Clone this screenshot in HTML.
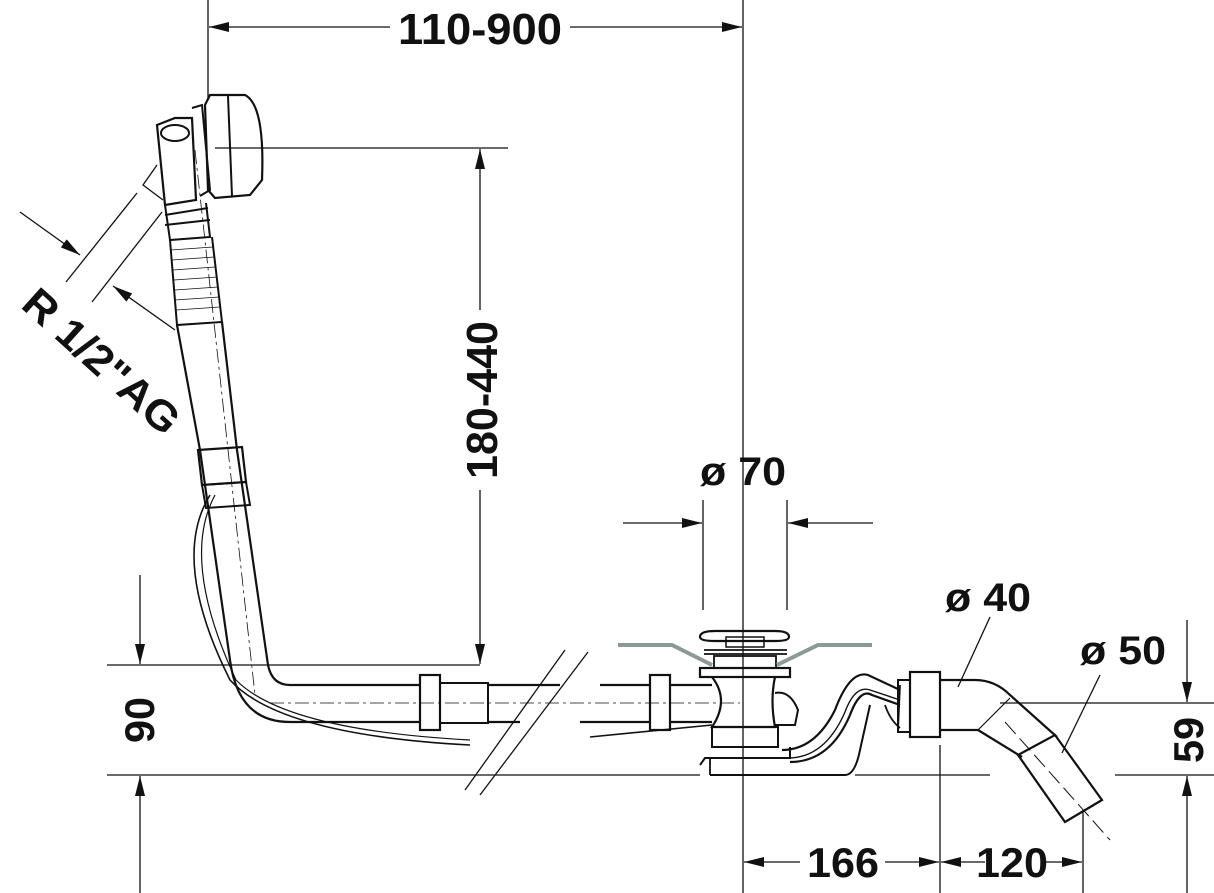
<!DOCTYPE html>
<html><head><style>html,body{margin:0;padding:0;background:#fff}svg{display:block}
text{font-family:"Liberation Sans",sans-serif;font-weight:bold;fill:#111}</style></head>
<body>
<svg width="1214" height="893" viewBox="0 0 1214 893" xmlns="http://www.w3.org/2000/svg">
<defs>
<marker id="a" viewBox="0 0 20 10" refX="20" refY="5" markerWidth="20" markerHeight="10" markerUnits="userSpaceOnUse" orient="auto"><path d="M0,0 L20,5 L0,10 z" fill="#111"/></marker>
</defs>
<g stroke="#111" stroke-width="1.3" fill="none">
<line x1="208" y1="0" x2="208" y2="100"/>
<line x1="743" y1="0" x2="743" y2="893"/>
<line x1="390" y1="27" x2="209" y2="27" marker-end="url(#a)"/>
<line x1="570" y1="27" x2="742" y2="27" marker-end="url(#a)"/>
<line x1="215" y1="148" x2="508" y2="148"/>
<line x1="480" y1="310" x2="480" y2="149" marker-end="url(#a)"/>
<line x1="480" y1="490" x2="480" y2="664" marker-end="url(#a)"/>
<line x1="107" y1="665" x2="480" y2="665"/>
<line x1="107" y1="775" x2="700" y2="775"/>
<line x1="140" y1="575" x2="140" y2="664" marker-end="url(#a)"/>
<line x1="140" y1="893" x2="140" y2="776" marker-end="url(#a)"/>
<line x1="703" y1="500" x2="703" y2="610"/>
<line x1="787" y1="500" x2="787" y2="610"/>
<line x1="623" y1="523" x2="702" y2="523" marker-end="url(#a)"/>
<line x1="873" y1="523" x2="788" y2="523" marker-end="url(#a)"/>
<line x1="1000" y1="703" x2="1214" y2="703"/>
<line x1="855" y1="775" x2="990" y2="775"/>
<line x1="1115" y1="775" x2="1214" y2="775"/>
<line x1="1187" y1="620" x2="1187" y2="702" marker-end="url(#a)"/>
<line x1="1187" y1="893" x2="1187" y2="776" marker-end="url(#a)"/>
<line x1="940" y1="745" x2="940" y2="893"/>
<line x1="1083" y1="810" x2="1083" y2="893"/>
<line x1="800" y1="862" x2="744" y2="862" marker-end="url(#a)"/>
<line x1="885" y1="862" x2="939" y2="862" marker-end="url(#a)"/>
<line x1="985" y1="862" x2="941" y2="862" marker-end="url(#a)"/>
<line x1="1045" y1="862" x2="1082" y2="862" marker-end="url(#a)"/>
<line x1="990" y1="617" x2="958" y2="687"/>
<line x1="1100" y1="675" x2="1062" y2="753"/>
<line x1="20" y1="212" x2="80" y2="255" marker-end="url(#a)"/>
<line x1="175" y1="330" x2="113" y2="286" marker-end="url(#a)"/>
<line x1="66" y1="282" x2="137" y2="193"/>
<line x1="92" y1="302" x2="162" y2="212"/>
<path d="M157,165 L143,185 L163,200"/>
<path d="M157,125 L175,118 L192,118 L196,200 L165,205 Z" stroke-width="2.2"/>
<ellipse cx="175" cy="133" rx="14" ry="8" stroke-width="2"/>
<path d="M192,108 L202,105 L210,190 L200,196" stroke-width="2"/>
<path d="M205,105 L210,95 L245,95 Q265,105 262,180 L250,195 L215,198 L208,190 Z" stroke-width="2.2"/>
<line x1="228" y1="96" x2="232" y2="196" stroke-width="2"/>
<line x1="165" y1="215" x2="208" y2="208" stroke-width="2"/>
<line x1="165" y1="225" x2="210" y2="220" stroke-width="2"/>
<path d="M165,205 L170,240 L210,237 L206,203" stroke-width="2"/>
<path d="M170,240 L177,325 L222,322 L212,237" stroke-width="2"/>
<g stroke-width="0.8">
<line x1="171" y1="250" x2="213" y2="247"/><line x1="172" y1="260" x2="214" y2="257"/><line x1="173" y1="270" x2="215" y2="267"/><line x1="174" y1="280" x2="217" y2="277"/><line x1="175" y1="290" x2="218" y2="287"/><line x1="175" y1="300" x2="219" y2="297"/><line x1="176" y1="310" x2="220" y2="307"/>
</g>
<path d="M177,325 L200,450 L230,660 Q238,722 290,722 L420,722" stroke-width="2.2"/>
<path d="M222,322 L237,450 L268,665 Q272,685 290,685 L420,685" stroke-width="2.2"/>
<path d="M198,450 L242,447 L246,482 L202,485 Z" stroke-width="2.2"/>
<path d="M202,485 L246,482 L250,505 L206,508 Z" stroke-width="2"/>
<line x1="195" y1="150" x2="255" y2="695" stroke-dasharray="14,4,3,4" stroke-width="0.8"/>
<line x1="270" y1="703" x2="740" y2="703" stroke-dasharray="14,4,3,4" stroke-width="0.8"/>
<path d="M210,495 Q170,560 230,680 Q280,735 470,745" stroke-width="1.6"/>
<path d="M215,495 Q180,560 236,680 Q285,730 470,740" stroke-width="1.2"/>
<path d="M590,737 L712,725" stroke-width="1.6"/>
<rect x="420" y="675" width="20" height="55" stroke-width="2.2"/>
<rect x="440" y="683" width="48" height="40" stroke-width="2"/>
<path d="M488,685 L552,685 M488,722 L520,722 M552,685 L560,685" stroke-width="2.2"/>
<path d="M600,685 L650,685 M580,722 L650,722" stroke-width="2.2"/>
<rect x="650" y="675" width="20" height="55" stroke-width="2.2"/>
<path d="M670,685 L712,685 M670,722 L712,722" stroke-width="2.2"/>
<line x1="465" y1="790" x2="565" y2="650"/>
<line x1="480" y1="795" x2="588" y2="652"/>
<path d="M700,637 Q700,631 715,631 L775,631 Q789,631 789,637 Q789,641 775,641 L715,641 Q700,641 700,637 Z" stroke-width="2.2"/>
<rect x="726" y="637" width="38" height="10" stroke-width="1.5"/>
<path d="M704,650 L787,650 M704,654 L787,654" stroke-width="1.8"/>
<rect x="714" y="656" width="62" height="12" stroke-width="1.8"/>
<rect x="700" y="668" width="90" height="9" stroke-width="2.2"/>
<path d="M712,677 Q730,700 712,727 L775,727 Q770,700 775,677" stroke-width="2.2"/>
<path d="M775,693 Q790,690 798,710 L795,725 L775,725" stroke-width="2"/>
<rect x="712" y="727" width="66" height="20" stroke-width="2"/>
<path d="M700,765 L705,758 L790,758 L790,747 M710,775 L790,775 L845,775 Q855,775 860,750 L870,705" stroke-width="2"/>
<path d="M710,758 L710,775" stroke-width="1.8"/>
<path d="M782,750 Q815,750 835,710 Q850,670 868,675 L900,690" stroke-width="2.2"/>
<path d="M788,758 Q825,758 845,712 Q855,685 870,690 L900,700" stroke-width="1.4"/>
<path d="M790,762 Q830,762 850,715 Q860,688 872,695 L900,705" stroke-width="2.2"/>
<path d="M900,685 L898,730 M885,705 Q890,720 900,728" stroke-width="1.8"/>
<rect x="898" y="680" width="12" height="52" stroke-width="2"/>
<rect x="910" y="672" width="30" height="65" stroke-width="2.2"/>
<path d="M940,680 L975,680 Q995,680 1010,695 L1057,737" stroke-width="2.2"/>
<path d="M940,730 L978,730 L1022,757" stroke-width="2.2"/>
<path d="M1018,755 L1055,735 L1102,800 L1065,822 Z" stroke-width="2.2"/>
<line x1="1010" y1="698" x2="978" y2="730" stroke-width="1.2"/>
<line x1="1005" y1="722" x2="1110" y2="840" stroke-dasharray="16,6" stroke-width="1"/>
</g>
<g stroke="#8a9a96" stroke-width="4" fill="none">
<path d="M618,645 L672,645 L712,665"/>
<path d="M777,665 L818,645 L872,645"/>
</g>
<text x="480" y="44" font-size="44" text-anchor="middle" textLength="164" lengthAdjust="spacingAndGlyphs">110-900</text>
<text transform="translate(497,400) rotate(-90)" font-size="44" text-anchor="middle" textLength="158" lengthAdjust="spacingAndGlyphs">180-440</text>
<text x="743" y="485" font-size="40" text-anchor="middle" textLength="86" lengthAdjust="spacingAndGlyphs">ø 70</text>
<text x="988" y="611" font-size="40" text-anchor="middle" textLength="86" lengthAdjust="spacingAndGlyphs">ø 40</text>
<text x="1123" y="664" font-size="40" text-anchor="middle" textLength="86" lengthAdjust="spacingAndGlyphs">ø 50</text>
<text transform="translate(154,720) rotate(-90)" font-size="42" text-anchor="middle" textLength="46" lengthAdjust="spacingAndGlyphs">90</text>
<text transform="translate(1203,740) rotate(-90)" font-size="42" text-anchor="middle" textLength="46" lengthAdjust="spacingAndGlyphs">59</text>
<text x="843" y="877" font-size="42" text-anchor="middle" textLength="72" lengthAdjust="spacingAndGlyphs">166</text>
<text x="1012" y="877" font-size="42" text-anchor="middle" textLength="72" lengthAdjust="spacingAndGlyphs">120</text>
<text transform="translate(92,372) rotate(42)" font-size="42" text-anchor="middle" textLength="195" lengthAdjust="spacingAndGlyphs">R 1/2"AG</text>
</svg>
</body></html>
